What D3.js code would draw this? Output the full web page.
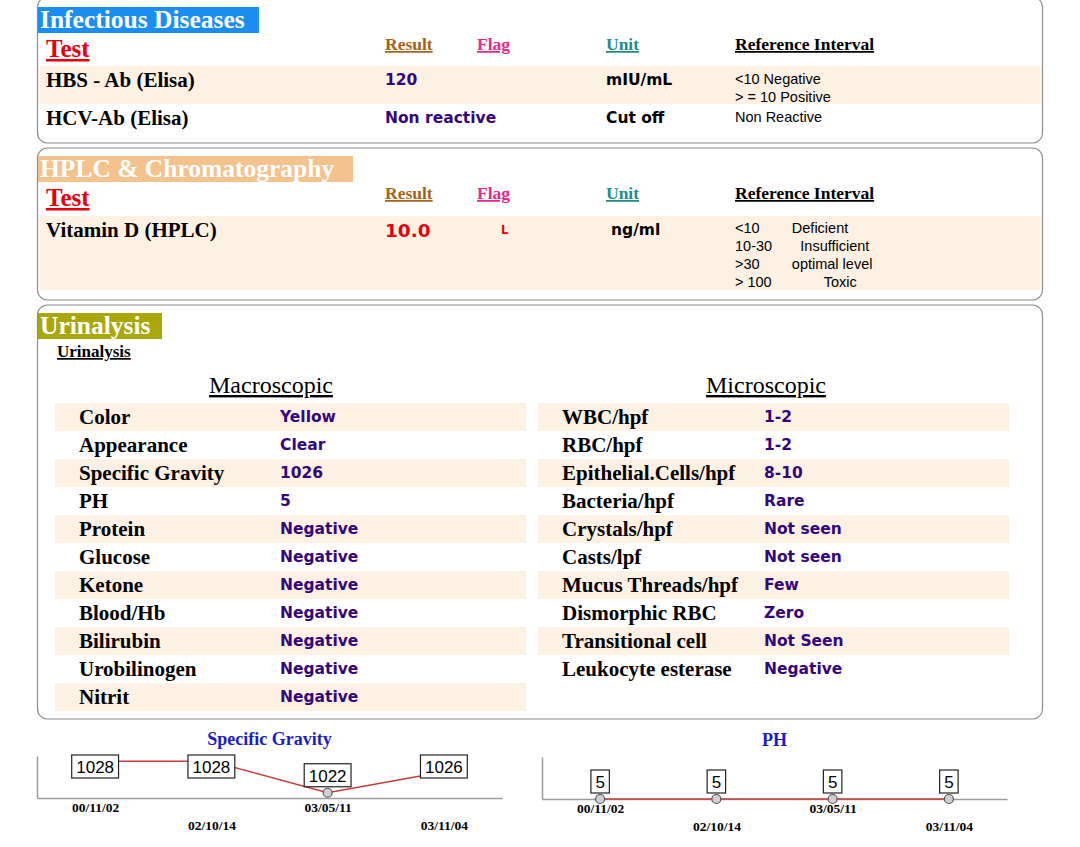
<!DOCTYPE html>
<html>
<head>
<meta charset="utf-8">
<script src="https://cdn.jsdelivr.net/npm/d3@7"></script>
<style>
body { margin: 0; background: #fff; }
.serif { font-family: "Liberation Serif", "Times New Roman", serif; }
.sans { font-family: "DejaVu Sans", Verdana, sans-serif; }
.arial { font-family: "Liberation Sans", Arial, sans-serif; }
</style>
</head>
<body>
<div id="chart"></div>
<script>
// ---- data ----
var headerLabels = ["Result", "Flag", "Unit", "Reference Interval"];

var infectiousTests = ["HBS - Ab (Elisa)", "HCV-Ab (Elisa)"];
var infectiousResults = ["120", "Non reactive"];
var infectiousUnits = ["mIU/mL", "Cut off"];
var infectiousRefs = [["<10 Negative", "> = 10 Positive"], ["Non Reactive"]];

var hplcTests = ["Vitamin D (HPLC)"];
var hplcResults = ["10.0"];
var hplcFlags = ["L"];
var hplcUnits = ["ng/ml"];
var hplcRefs = [["<10        Deficient", "10-30       Insufficient", ">30        optimal level", "> 100             Toxic"]];

var macroNames = ["Color", "Appearance", "Specific Gravity", "PH", "Protein", "Glucose", "Ketone", "Blood/Hb", "Bilirubin", "Urobilinogen", "Nitrit"];
var macroValues = ["Yellow", "Clear", "1026", "5", "Negative", "Negative", "Negative", "Negative", "Negative", "Negative", "Negative"];

var microNames = ["WBC/hpf", "RBC/hpf", "Epithelial.Cells/hpf", "Bacteria/hpf", "Crystals/hpf", "Casts/lpf", "Mucus Threads/hpf", "Dismorphic RBC", "Transitional cell", "Leukocyte esterase"];
var microValues = ["1-2", "1-2", "8-10", "Rare", "Not seen", "Not seen", "Few", "Zero", "Not Seen", "Negative"];

var visitDates = ["00/11/02", "02/10/14", "03/05/11", "03/11/04"];
var gravityValues = [1028, 1028, 1022, 1026];
var phValues = [5, 5, 5, 5];

// ---- drawing ----
var stripe = "#fdf1e4";
var purple = "#34067c";
var headerX = [385, 477, 606, 735];
var headerColors = ["#a5631c", "#e6288c", "#1f8c8c", "#000"];

var svg = d3.select("#chart").append("svg")
    .attr("width", 1080)
    .attr("height", 847);

function txt(x, y, s, cls, size, color, weight) {
    return svg.append("text")
        .attr("class", cls)
        .attr("x", x)
        .attr("y", y)
        .attr("font-size", size)
        .attr("font-weight", weight || "normal")
        .attr("fill", color || "#000")
        .text(s);
}

function panel(y0, y1) {
    svg.append("rect")
        .attr("x", 37.5).attr("y", y0)
        .attr("width", 1005).attr("height", y1 - y0)
        .attr("rx", 10)
        .attr("fill", "none")
        .attr("stroke", "#8c8c8c")
        .attr("stroke-width", 1.2);
}

function sectionTitle(y, label, color, w) {
    svg.append("rect").attr("x", 38).attr("y", y).attr("width", w).attr("height", 26).attr("fill", color);
    txt(40, y + 21, label, "serif", 25.5, "#fff", "bold");
}

function headers(oy) {
    txt(46, oy + 57, "Test", "serif", 25, "#e8000b", "bold").style("text-decoration", "underline");
    headerLabels.forEach(function(h, i) {
        txt(headerX[i], oy + 50, h, "serif", 17.5, headerColors[i], "bold").style("text-decoration", "underline");
    });
}

// Infectious Diseases
panel(-3, 143);
sectionTitle(7, "Infectious Diseases", "#1b8ef2", 221);
headers(0);
var infRowTop = [66, 104];
svg.append("rect").attr("x", 38.5).attr("y", 66).attr("width", 1003.5).attr("height", 38).attr("fill", stripe);
infectiousTests.forEach(function(t, i) {
    var top = infRowTop[i];
    txt(46, top + 21, t, "serif", 21, "#000", "bold");
    txt(385, top + 19, infectiousResults[i], "sans", 15.5, purple, "bold");
    txt(606, top + 18.5, infectiousUnits[i], "sans", 15.5, "#000", "bold");
    infectiousRefs[i].forEach(function(r, j) {
        txt(735, top + 17.5 + j * 18, r, "arial", 14.5, "#000");
    });
});

// HPLC
panel(148, 300);
sectionTitle(156, "HPLC & Chromatography", "#f4c28c", 315);
headers(149);
svg.append("rect").attr("x", 38.5).attr("y", 216).attr("width", 1003.5).attr("height", 74).attr("fill", stripe);
hplcTests.forEach(function(t, i) {
    var top = 216;
    txt(46, top + 21, t, "serif", 21, "#000", "bold");
    txt(385, top + 21, hplcResults[i], "sans", 18.5, "#e8000b", "bold");
    txt(501, top + 18, hplcFlags[i], "sans", 11.5, "#e8000b", "bold");
    txt(611, top + 19, hplcUnits[i], "sans", 15.5, "#000", "bold");
    hplcRefs[i].forEach(function(r, j) {
        txt(735, top + 17 + j * 18, r, "arial", 14.5, "#000").style("white-space", "pre");
    });
});

// Urinalysis
panel(305, 719);
sectionTitle(313, "Urinalysis", "#a8a80a", 124);
txt(57, 357, "Urinalysis", "serif", 17, "#000", "bold").style("text-decoration", "underline");
txt(271, 393, "Macroscopic", "serif", 24, "#000").attr("text-anchor", "middle").style("text-decoration", "underline");
txt(766, 393, "Microscopic", "serif", 24, "#000").attr("text-anchor", "middle").style("text-decoration", "underline");

function urineColumn(names, values, x0, x1, labelX, valueX) {
    var row = d3.scaleBand().domain(d3.range(names.length)).range([403, 403 + 28 * names.length]);
    names.forEach(function(n, i) {
        var top = row(i);
        if (i % 2 === 0) {
            svg.append("rect").attr("x", x0).attr("y", top).attr("width", x1 - x0).attr("height", row.bandwidth()).attr("fill", stripe);
        }
        txt(labelX, top + 21, n, "serif", 21, "#000", "bold");
        txt(valueX, top + 18.5, values[i], "sans", 15.5, purple, "bold");
    });
}
urineColumn(macroNames, macroValues, 55, 526, 79, 280);
urineColumn(microNames, microValues, 538, 1009, 562, 764);

// small trend charts
function trendChart(opts) {
    var width = 465, height = 42;
    var g = svg.append("g").attr("transform", "translate(" + opts.left + "," + opts.top + ")");

    var x = d3.scalePoint().domain(visitDates).range([0, width]).padding(0.5);
    var y = d3.scaleLinear().domain(opts.domain).range([height, 0]);

    svg.append("text")
        .attr("class", "serif")
        .attr("x", opts.left + width / 2)
        .attr("y", opts.top - 11)
        .attr("text-anchor", "middle")
        .attr("font-size", 18)
        .attr("font-weight", "bold")
        .attr("fill", "#1c1cc8")
        .text(opts.title);

    g.append("g")
        .attr("class", "y axis")
        .attr("color", "#9a9a9a")
        .call(d3.axisLeft(y).tickValues([]).tickSizeOuter(0))
        .select(".domain").attr("stroke-width", 1.5);

    var xa = g.append("g")
        .attr("class", "x axis")
        .attr("color", "#9a9a9a")
        .attr("transform", "translate(0," + height + ")")
        .call(d3.axisBottom(x).tickSize(0).tickSizeOuter(0));
    xa.select(".domain").attr("stroke-width", 1.5);
    xa.selectAll("text")
        .attr("class", "serif")
        .attr("font-size", 13.5)
        .attr("font-weight", "bold")
        .attr("fill", "#000")
        .attr("dy", null)
        .attr("y", function(d, i) { return i % 2 ? 32 : 14; });

    var pts = visitDates.map(function(d, i) { return { date: d, value: opts.values[i] }; });

    g.append("path")
        .datum(pts)
        .attr("fill", "none")
        .attr("stroke", "#c83c3c")
        .attr("stroke-width", 1.4)
        .attr("d", d3.line()
            .x(function(d) { return x(d.date); })
            .y(function(d) { return y(d.value); }));

    g.selectAll(".pt")
        .data(pts)
      .enter().append("circle")
        .attr("class", "pt")
        .attr("cx", function(d) { return x(d.date); })
        .attr("cy", function(d) { return y(d.value); })
        .attr("r", 4.5)
        .attr("fill", "#cfcfcf")
        .attr("stroke", "#555")
        .attr("stroke-width", 1.2);

    var boxH = 23;
    var lab = g.selectAll(".lab")
        .data(pts)
      .enter().append("g")
        .attr("class", "lab")
        .attr("transform", function(d) {
            var top = Math.max(-1, y(d.value) - 6 - boxH);
            return "translate(" + x(d.date) + "," + top + ")";
        });
    var rects = lab.append("rect");
    lab.append("text")
        .attr("class", "arial")
        .attr("font-size", 17)
        .attr("text-anchor", "middle")
        .attr("y", 18)
        .text(function(d) { return d.value; })
        .each(function() {
            var w = this.getComputedTextLength() + 9;
            d3.select(this.parentNode).select("rect")
                .attr("x", -w / 2).attr("width", w);
        });
    rects.attr("y", 0)
        .attr("height", boxH)
        .attr("fill", "#fff")
        .attr("stroke", "#222")
        .attr("stroke-width", 1.2);
}

trendChart({ left: 37, top: 756, title: "Specific Gravity", values: gravityValues, domain: [1021, 1029] });
trendChart({ left: 542, top: 757, title: "PH", values: phValues, domain: [5, 10] });
</script>
</body>
</html>
